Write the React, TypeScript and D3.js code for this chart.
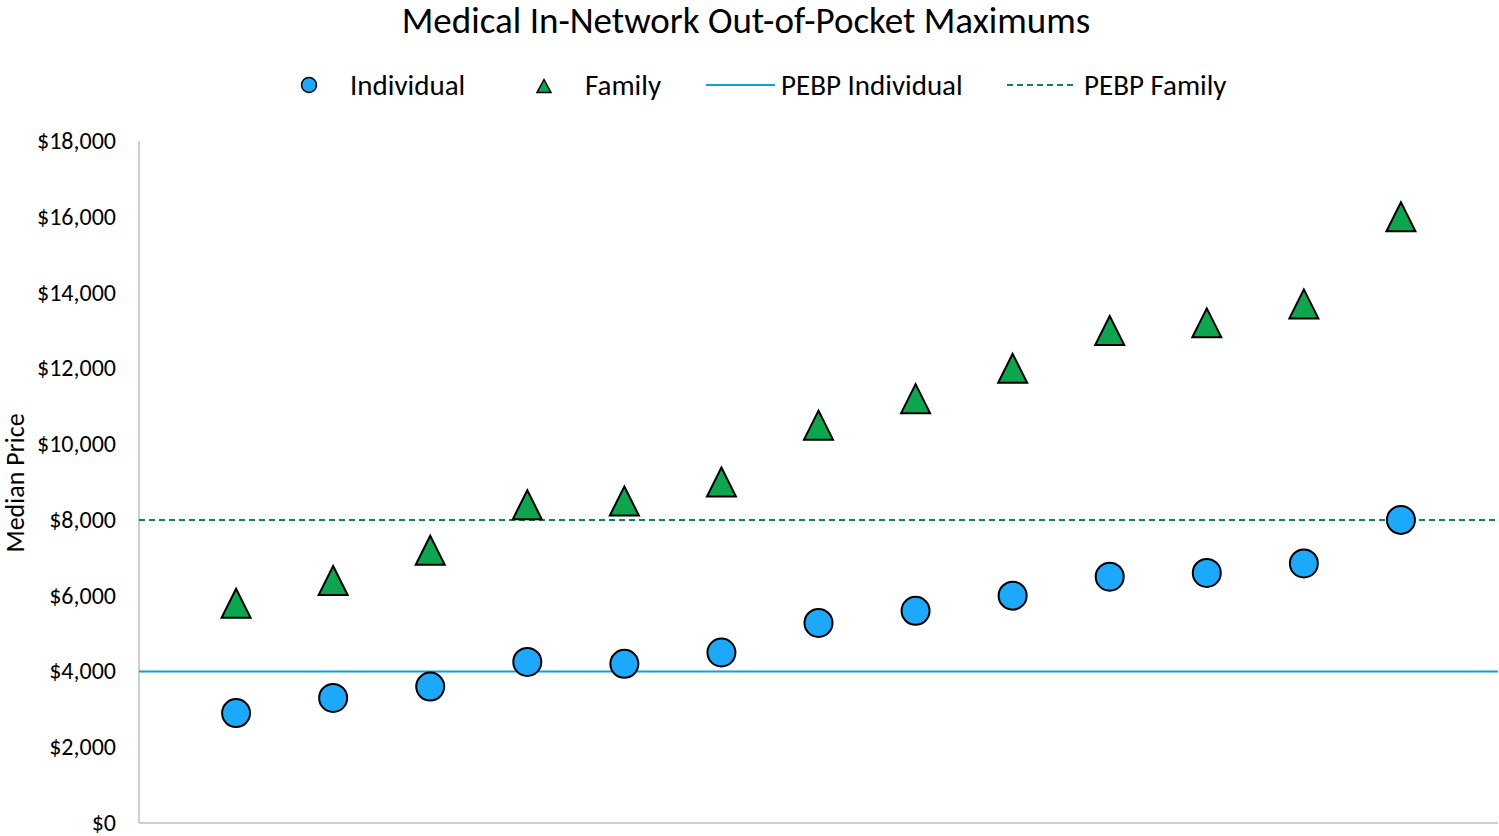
import React from 'react';
import * as d3 from 'd3';

const individual = [2900, 3300, 3600, 4250, 4200, 4500, 5280, 5600, 6000, 6500, 6600, 6850, 8000];
const family = [5800, 6400, 7200, 8400, 8500, 9000, 10500, 11200, 12000, 13000, 13200, 13700, 16000];
const pebpIndividual = 4000;
const pebpFamily = 8000;
const yTicks = [0, 2000, 4000, 6000, 8000, 10000, 12000, 14000, 16000, 18000];

const W = 1499;
const H = 836;
const left = 139;
const right = 1498;
const top = 141;
const bottom = 823;

const blue = '#1CA9FC';
const green = '#0BA64E';
const lineBlue = '#0EA0D8';
const lineGreen = '#0A8A43';
const font = "Carlito, Calibri, 'Open Sans', sans-serif";

// triangle marker centred on its bounding box
const triangle = (w: number, h: number) => {
    const p = d3.path();
    p.moveTo(0, -h / 2);
    p.lineTo(w / 2, h / 2);
    p.lineTo(-w / 2, h / 2);
    p.closePath();
    return p.toString();
};

const App = () => {
    const x = d3.scaleLinear().domain([0, individual.length + 1]).range([left, right]);
    const y = d3.scaleLinear().domain([0, 18000]).range([bottom, top]);
    const fmt = (v: number) => '$' + d3.format(',')(v);
    const tri = triangle(29, 29);
    const triSmall = triangle(14, 13);

    return (
        <svg width={W} height={H} style={{ position: 'absolute', left: 0, top: 0, fontFamily: font }}>
            <rect width={W} height={H} fill="#fff" />
            <text x={746} y={33} textAnchor="middle" fontSize={37} fill="#000">
                Medical In-Network Out-of-Pocket Maximums
            </text>

            {/* legend */}
            <g fontSize={29} fill="#000">
                <circle cx={309} cy={85} r={7.5} fill={blue} stroke="#000" strokeWidth={1.5} />
                <text x={350} y={95}>Individual</text>
                <path d={triSmall} transform="translate(544,86)" fill={green} stroke="#000" strokeWidth={1.5} />
                <text x={585} y={95}>Family</text>
                <line x1={706} x2={775} y1={85} y2={85} stroke={lineBlue} strokeWidth={2} />
                <text x={781} y={95}>PEBP Individual</text>
                <line x1={1007} x2={1077} y1={85} y2={85} stroke={lineGreen} strokeWidth={2} strokeDasharray="6,4" />
                <text x={1084} y={95}>PEBP Family</text>
            </g>

            {/* axes */}
            <line x1={left} x2={left} y1={top} y2={bottom} stroke="#BFBFBF" strokeWidth={1.5} />
            <line x1={left} x2={right} y1={bottom} y2={bottom} stroke="#BFBFBF" strokeWidth={1.5} />
            {yTicks.map(t => (
                <text key={t} x={116} y={y(t) + 8} textAnchor="end" fontSize={24} fill="#000">{fmt(t)}</text>
            ))}
            <text transform={`translate(24,${(top + bottom) / 2 + 1}) rotate(-90)`} textAnchor="middle" fontSize={26} fill="#000">
                Median Price
            </text>

            {/* reference lines */}
            <line x1={left} x2={right} y1={y(pebpIndividual)} y2={y(pebpIndividual)} stroke={lineBlue} strokeWidth={2} />
            <line x1={left} x2={right} y1={y(pebpFamily)} y2={y(pebpFamily)} stroke={lineGreen} strokeWidth={2} strokeDasharray="6,4" />

            {/* points */}
            {family.map((v, i) => (
                <path key={'f' + i} d={tri} transform={`translate(${x(i + 1)},${y(v)})`} fill={green} stroke="#000" strokeWidth={2} strokeLinejoin="miter" />
            ))}
            {individual.map((v, i) => (
                <circle key={'i' + i} cx={x(i + 1)} cy={y(v)} r={14} fill={blue} stroke="#000" strokeWidth={2} />
            ))}
        </svg>
    );
};

export default App;
